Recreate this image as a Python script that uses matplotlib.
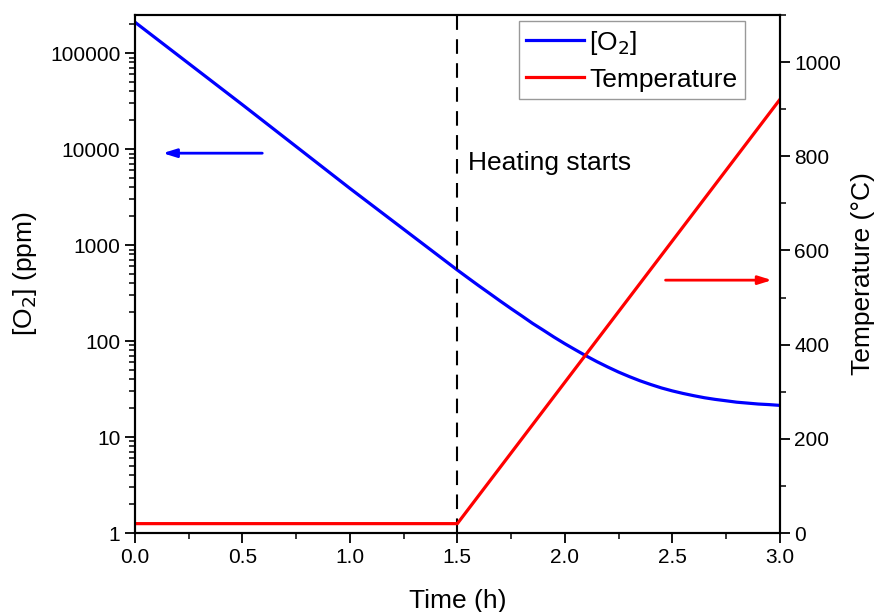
import matplotlib
matplotlib.use("Agg")
import matplotlib.pyplot as plt
from matplotlib.ticker import FixedLocator, LogLocator, FuncFormatter, MultipleLocator, NullFormatter

plt.rcParams['font.family'] = ['Liberation Sans', 'DejaVu Sans']

# O2 concentration (ppm) vs time (h)
o2_time = [0.0, 0.5, 1.0, 1.5, 1.55, 1.6, 1.65, 1.7, 1.75, 1.8, 1.85, 1.9, 1.95, 2.0,
           2.05, 2.1, 2.15, 2.2, 2.25, 2.3, 2.35, 2.4, 2.45, 2.5, 2.55, 2.6, 2.65,
           2.7, 2.75, 2.8, 2.85, 2.9, 2.95, 3.0]
o2_ppm = [210000, 29000, 3900, 550, 455, 377, 314, 261, 218, 183, 153, 130, 110, 94,
          81, 70, 61, 53.7, 47.6, 42.7, 38.6, 35.3, 32.5, 30.3, 28.5, 27.0, 25.7,
          24.7, 23.9, 23.1, 22.6, 22.1, 21.8, 21.4]

# Temperature (°C) vs time (h)
temp_time = [0.0, 1.5, 3.0]
temp_c = [20, 20, 920]

heating_start = 1.5

fig = plt.figure(figsize=(8.77, 6.12), dpi=100)
ax = fig.add_axes([0.154, 0.129, 0.735, 0.8465])
ax2 = ax.twinx()

l1, = ax.plot(o2_time, o2_ppm, color='#0000ff', lw=2.3, label='[O$_2$]')
l2, = ax2.plot(temp_time, temp_c, color='#ff0000', lw=2.3, label='Temperature')
ax.axvline(heating_start, color='black', lw=1.5, dashes=(7, 4.5))

ax.set_yscale('log')
ax.set_xlim(0, 3)
ax.set_ylim(1, 2.5e5)
ax2.set_ylim(0, 1100)

ax.xaxis.set_major_locator(MultipleLocator(0.5))
ax.xaxis.set_minor_locator(MultipleLocator(0.25))
ax.xaxis.set_major_formatter(FuncFormatter(lambda v, p: f"{v:.1f}"))
ax.yaxis.set_major_locator(FixedLocator([1, 10, 100, 1000, 10000, 100000]))
ax.yaxis.set_minor_locator(LogLocator(base=10, subs=range(2, 10), numticks=20))
ax.yaxis.set_major_formatter(FuncFormatter(lambda v, p: f"{int(round(v))}"))
ax.yaxis.set_minor_formatter(NullFormatter())
ax2.yaxis.set_major_locator(MultipleLocator(200))
ax2.yaxis.set_minor_locator(MultipleLocator(100))

for a in (ax, ax2):
    a.tick_params(which='major', direction='out', length=7, width=1.3, labelsize=15)
    a.tick_params(which='minor', direction='out', length=4, width=1.1)
    for s in a.spines.values():
        s.set_linewidth(1.5)
ax.tick_params(top=False, which='both')
ax2.tick_params(top=False, which='both')

ax.set_xlabel('Time (h)', fontsize=19, labelpad=16)
ax.set_ylabel('[O$_2$] (ppm)', fontsize=19, labelpad=8)
ax2.set_ylabel('Temperature (°C)', fontsize=19, labelpad=7)

ax.text(1.55, 10**(3.0 + (245 - 163) / 96.0), 'Heating starts', fontsize=19, va='center', ha='left')

ax.annotate('', xy=(0.116, 9080), xytext=(0.605, 9080),
            arrowprops=dict(arrowstyle='-|>,head_length=0.8,head_width=0.25', color='#0000ff', lw=2))
ax2.annotate('', xy=(2.977, 537), xytext=(2.456, 537),
             arrowprops=dict(arrowstyle='-|>,head_length=0.8,head_width=0.25', color='#ff0000', lw=2))

leg = ax2.legend(handles=[l1, l2], loc='upper right', bbox_to_anchor=(0.946, 0.988),
                 borderaxespad=0, fontsize=19, frameon=True, fancybox=False,
                 handlelength=2.2, handletextpad=0.2, labelspacing=0.42, borderpad=0.28)
leg.get_frame().set_edgecolor('#808080')
leg.get_frame().set_linewidth(1.0)

fig.savefig('out.png', dpi=100)
